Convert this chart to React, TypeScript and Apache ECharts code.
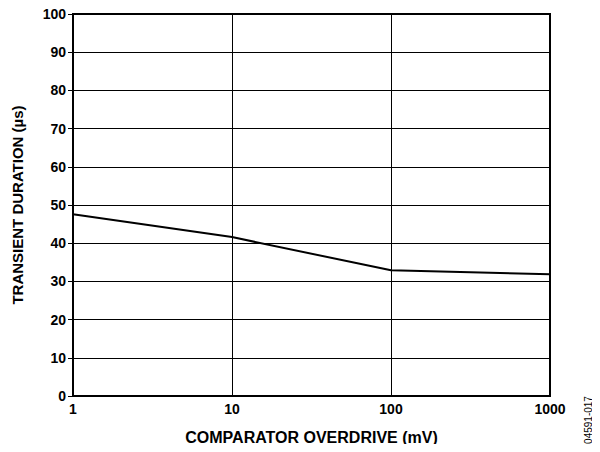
import React, { useEffect, useRef } from "react";
import * as echarts from "echarts";

const overdrive = [1, 10, 100, 1000];
const duration = [47.6, 41.6, 32.9, 31.9];
const yMin = 0;
const yMax = 100;
const yStep = 10;

export default function App() {
  const ref = useRef<HTMLDivElement>(null);
  useEffect(() => {
    if (!ref.current) return;
    const chart = echarts.init(ref.current, null, { renderer: "svg" });
    const font = "Liberation Sans, Arial, sans-serif";
    chart.setOption({
      animation: false,
      grid: { left: 73, right: 50, top: 14, bottom: 56, containLabel: false },
      xAxis: {
        type: "log",
        logBase: 10,
        min: 1,
        max: 1000,
        name: "COMPARATOR OVERDRIVE (mV)",
        nameLocation: "middle",
        nameGap: 33,
        nameTextStyle: { fontFamily: font, fontWeight: "bold", fontSize: 16, color: "#000" },
        axisLine: { show: true, lineStyle: { color: "#000", width: 2 } },
        axisTick: { show: false },
        minorTick: { show: false },
        axisLabel: {
          fontFamily: font,
          fontWeight: "bold",
          fontSize: 14,
          color: "#000",
          margin: 6,
          formatter: (v: number) => String(Math.round(v)),
        },
        splitLine: { show: true, lineStyle: { color: "#000", width: 1 } },
      },
      yAxis: {
        type: "value",
        min: yMin,
        max: yMax,
        interval: yStep,
        name: "TRANSIENT DURATION (µs)",
        nameLocation: "middle",
        nameGap: 48,
        nameTextStyle: { fontFamily: font, fontWeight: "bold", fontSize: 15, color: "#000" },
        axisLine: { show: true, lineStyle: { color: "#000", width: 2 } },
        axisTick: { show: true, length: 5, inside: false, lineStyle: { color: "#000", width: 1 } },
        axisLabel: { fontFamily: font, fontWeight: "bold", fontSize: 14, color: "#000", margin: 7 },
        splitLine: { show: true, lineStyle: { color: "#000", width: 1 } },
      },
      graphic: [
        {
          type: "rect",
          shape: { x: 73, y: 14, width: 477, height: 382 },
          style: { fill: "none", stroke: "#000", lineWidth: 2 },
          silent: true,
          z: 10,
        },
        {
          type: "text",
          x: 588,
          y: 420,
          rotation: Math.PI / 2,
          style: {
            text: "04591-017",
            fontFamily: font,
            fontSize: 10,
            fill: "#000",
            align: "center",
            verticalAlign: "middle",
          },
        },
      ],
      series: [
        {
          type: "line",
          data: overdrive.map((x, i) => [x, duration[i]]),
          showSymbol: false,
          lineStyle: { color: "#000", width: 2 },
          z: 5,
        },
      ],
    });
    return () => chart.dispose();
  }, []);
  return <div ref={ref} style={{ width: 600, height: 452, margin: -8 }} />;
}
